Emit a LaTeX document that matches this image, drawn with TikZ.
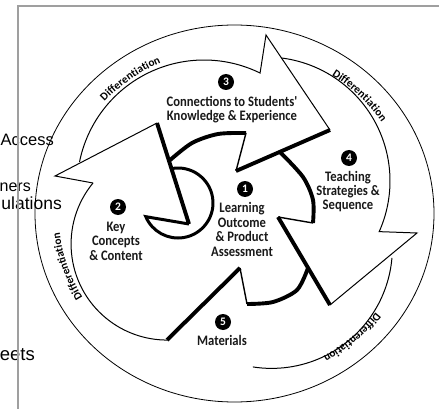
\documentclass[tikz,border=0pt]{standalone}
\usepackage{fontspec}
\setmainfont{Liberation Sans}
\newfontfamily\lblfont{Carlito}[FakeStretch=0.87]
\newfontfamily\ringfont{Carlito}
\usetikzlibrary{decorations.text}

\newcommand\difffont{\ringfont\bfseries\fontsize{11.2}{12}\selectfont}

\tikzset{
  thinedge/.style={line width=1pt, line join=miter},
  thickedge/.style={line width=3.9pt, line join=miter},
  notchedge/.style={line width=1.4pt},
  numdot/.style={circle, fill=black, inner sep=0pt, minimum size=16pt,
    text=white, font=\ringfont\bfseries\fontsize{11.5}{11.5}\selectfont},
  lbl/.style={align=center, inner sep=0pt, text=black!90,
    font=\lblfont\bfseries\fontsize{14.5}{14.4}\selectfont},
  sidetext/.style={inner sep=0pt, anchor=base east, text=black},
  ringtext/.style={decorate, decoration={text along path,
    text={|\difffont|Differentiation}, text align=center}},
}

\begin{document}
\begin{tikzpicture}[x=1pt, y=-1pt]
  \clip (0,0) rectangle (439,409);
  \fill[white] (0,0) rectangle (439,409);

  % words of the slide behind the figure
  \node[sidetext, font=\fontsize{16.5}{18}\selectfont] (access) at (54,146) {Access};
  \node[sidetext, font=\fontsize{16}{18}\selectfont] (ners) at (31,191) {ners};
  \node[sidetext, font=\fontsize{17.5}{18}\selectfont] (ulat) at (62,209) {ulations};
  \node[sidetext, font=\fontsize{18.5}{22}\selectfont] (eets) at (35,360) {eets};

  % slide frame
  \draw[gray!75, line width=2pt] (445,6) -- (18,6) -- (18,420);

  % outer ring
  \coordinate (O) at (234.5,213.5);
  \draw[line width=0.8pt] (O) ellipse [x radius=199.5, y radius=188.5];

  % ring captions
  \path[ringtext] ([shift={(-156.5:176 and 166)}]O) arc[start angle=-156.5, end angle=-96.5, x radius=176, y radius=166];
  \path[ringtext] ([shift={(-74.5:176 and 166)}]O) arc[start angle=-74.5, end angle=-14.5, x radius=176, y radius=166];
  \path[ringtext] ([shift={(17.8:176 and 166)}]O) arc[start angle=17.8, end angle=77.8, x radius=176, y radius=166];
  \path[ringtext] ([shift={(131.7:176 and 166)}]O) arc[start angle=131.7, end angle=191.7, x radius=176, y radius=166];

  % key points of the arrows
  \coordinate (B1) at (55,176);   \coordinate (T1) at (157,123);
  \coordinate (W)  at (189,224);  \coordinate (L1) at (93,183);
  \coordinate (B2) at (266,35);   \coordinate (T2) at (330,130);
  \coordinate (N2) at (236,171);  \coordinate (I3e) at (246,133);
  \coordinate (I3s) at (169,161);
  \coordinate (B3) at (417,233);  \coordinate (T3) at (330,305);
  \coordinate (N3) at (278,217);  \coordinate (I4s) at (280,152);
  \coordinate (I4e) at (313,223);
  \coordinate (N4) at (240,268);  \coordinate (T4) at (167,340);
  \coordinate (I5s) at (308,268); \coordinate (I5e) at (247,304);
  \coordinate (PC) at (178,203);

  % outer edges of the arrows
  \draw[thinedge] (L1) -- (B1) -- (T1);
  \draw[thinedge] ([shift={(-168.6:127)}]204,187) arc[start angle=-168.6, end angle=-63.8, radius=127] -- (B2) -- (T2);
  \draw[thinedge] ([shift={(-82.6:124)}]266,181) arc[start angle=-82.6, end angle=24.1, radius=124] -- (B3) -- (T3);
  \draw[thinedge] ([shift={(4.9:120.8)}]271.6,247.6) arc[start angle=4.9, end angle=98.9, radius=120.8];
  \draw[thinedge] (L1) arc[start angle=-140.5, end angle=-270, radius=96];

  % shaded inner edges
  \draw[thickedge] (T1) -- (W);
  \draw[thickedge] (T2) -- (N2);
  \draw[notchedge] (N2) -- (I3e);
  \draw[thickedge] plot[smooth] coordinates {(I3s) (192,143) (218,134) (I3e)};
  \draw[thickedge] plot[smooth] coordinates {(I4s) (303,177) (313,200) (I4e)};
  \draw[notchedge] (I4e) -- (N3);
  \draw[thickedge] (N3) -- (T3);
  \draw[thickedge] plot[smooth] coordinates {(I5s) (297,290) (273,302) (I5e)};
  \draw[notchedge] (I5e) -- (N4);
  \draw[thickedge] (N4) -- (T4);

  % cut circle at the hub
  \draw[line width=3pt] ([shift={(-100:35)}]PC) arc[start angle=-100, end angle=157, radius=35] -- (W);

  % step labels
  \node[numdot] (n3) at (226,82) {3};
  \node[lbl] (l3) at (232,109.5) {Connections to Students'\\Knowledge \& Experience};
  \node[numdot] (n4) at (349,158) {4};
  \node[lbl] (l4) at (348,191.5) {Teaching\\Strategies \&\\Sequence};
  \node[numdot] (n1) at (245,189) {1};
  \node[lbl] (l1) at (242,229.5) {Learning\\Outcome\\\& Product\\Assessment};
  \node[numdot] (n2) at (118,207) {2};
  \node[lbl] (l2) at (116,241) {Key\\Concepts\\\& Content};
  \node[numdot] (n5) at (223,322) {5};
  \node[lbl] (l5) at (222,340) {Materials};
\end{tikzpicture}
\end{document}
